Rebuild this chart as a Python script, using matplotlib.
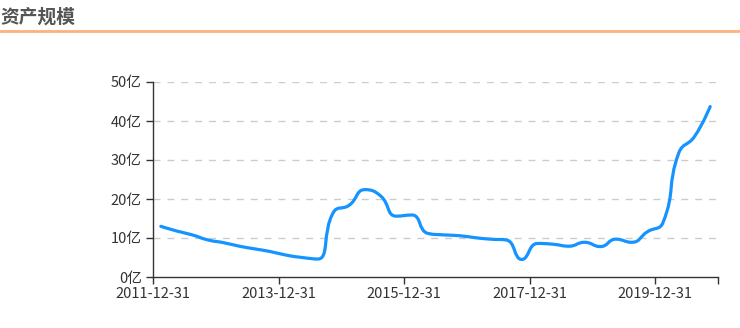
import matplotlib
matplotlib.use("Agg")
import matplotlib.pyplot as plt
from matplotlib.path import Path
from matplotlib.patches import PathPatch
from matplotlib.lines import Line2D
import numpy as np

plt.rcParams['font.family'] = ['Noto Sans CJK SC', 'DejaVu Sans']

# 资产规模 (亿), quarterly from 2011-12-31
values = [13.0, 11.8, 10.8, 9.5, 8.8, 7.9, 7.2, 6.5, 5.6, 5.0,
          4.6, 16.6, 18.4, 22.4, 20.8, 15.6, 15.9, 11.2, 10.8, 10.6,
          10.1, 9.7, 9.5, 4.5, 8.6, 8.4, 7.9, 8.9, 7.8, 9.7,
          8.9, 11.6, 14.0, 31.8, 36.0, 43.7]
tick_labels = ['2011-12-31', '2013-12-31', '2015-12-31', '2017-12-31', '2019-12-31']
y_ticks = [0, 10, 20, 30, 40, 50]

line_color = '#1593ff'
text_color = '#333333'


def smooth_path(pts, s=0.5):
    # bezier through the points (in pixels), tangents clamped so there is no overshoot
    n = len(pts)
    cp_in = [p.copy() for p in pts]
    cp_out = [p.copy() for p in pts]
    for i in range(1, n - 1):
        prev, p, nxt = pts[i - 1], pts[i], pts[i + 1]
        v = nxt - prev
        d0 = np.hypot(*(p - prev))
        d1 = np.hypot(*(nxt - p))
        r = d1 / (d0 + d1)
        out = p + v * s * r
        out = np.clip(out, np.minimum(p, nxt), np.maximum(p, nxt))
        inn = p - (out - p) * d0 / d1
        inn = np.clip(inn, np.minimum(p, prev), np.maximum(p, prev))
        out = p + (p - inn) * d1 / d0
        cp_in[i], cp_out[i] = inn, out
    verts = [pts[0]]
    codes = [Path.MOVETO]
    for i in range(n - 1):
        verts += [cp_out[i], cp_in[i + 1], pts[i + 1]]
        codes += [Path.CURVE4] * 3
    return np.array(verts), codes


fig = plt.figure(figsize=(7.4, 3.28), dpi=100)
ax = fig.add_axes([153 / 740, 1 - 277 / 328, 565 / 740, 195 / 328])
ax.set_xlim(-0.5, len(values) - 0.5)
ax.set_ylim(0, 50)

x = np.arange(len(values))
px = ax.transData.transform(np.column_stack([x, values]))
verts, codes = smooth_path(px)
verts = ax.transData.inverted().transform(verts)
patch = PathPatch(Path(verts, codes), facecolor='none', edgecolor=line_color,
                  lw=2.3, capstyle='round', joinstyle='round', zorder=3)
ax.add_patch(patch)

for v in y_ticks[1:]:
    ax.axhline(v, color='#cccccc', lw=1, ls=(0, (5, 5)), zorder=1)

ax.set_yticks(y_ticks)
ax.set_yticklabels([f'{v}亿' for v in y_ticks])
xt = [-0.5 + 8 * i for i in range(len(tick_labels))] + [len(values) - 0.5]
ax.set_xticks(xt)
ax.set_xticklabels(tick_labels + [''])

for s in ['top', 'right']:
    ax.spines[s].set_visible(False)
for s in ['left', 'bottom']:
    ax.spines[s].set_color(text_color)
    ax.spines[s].set_linewidth(1)
ax.tick_params(axis='both', colors=text_color, labelsize=10.5, length=5, width=1)
ax.tick_params(axis='y', pad=3)
ax.tick_params(axis='x', pad=2)

fig.text(0.0, 1 - 17 / 328, '资产规模', fontsize=13.5, fontweight='bold',
         color='#555555', va='center', ha='left')
fig.add_artist(Line2D([0, 1], [1 - 30.5 / 328] * 2, color='#ffb07c', lw=2,
                      transform=fig.transFigure))

fig.savefig('out.png', dpi=100)
